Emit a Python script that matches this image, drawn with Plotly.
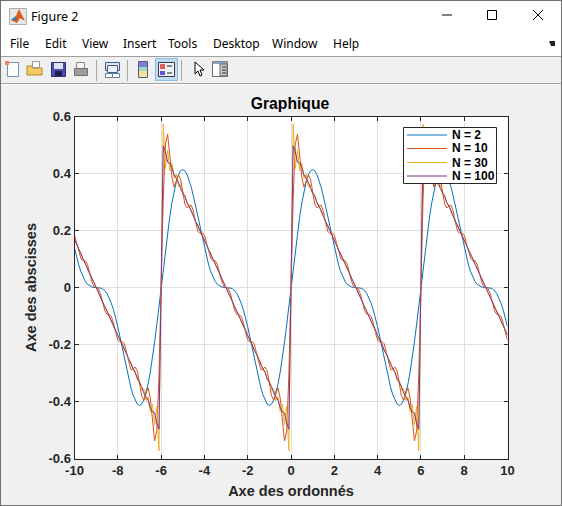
import plotly.graph_objects as go

W, H = 562, 506
x_ticks = [-10, -8, -6, -4, -2, 0, 2, 4, 6, 8, 10]
x_tick_text = ["-10", "-8", "-6", "-4", "-2", "0", "2", "4", "6", "8", "10"]
y_ticks = [-0.6, -0.4, -0.2, 0, 0.2, 0.4, 0.6]
y_tick_text = ["-0.6", "-0.4", "-0.2", "0", "0.2", "0.4", "0.6"]
series_names = ["N = 2", "N = 10", "N = 30", "N = 100"]
series_colors = ["#0072BD", "#D95319", "#EDB120", "#7E2F8E"]
menu_labels = ["File", "Edit", "View", "Insert", "Tools", "Desktop", "Window", "Help"]
x_samples = [i / 10 for i in range(-100, 101)]

n2 = [
    .138,.106,.078,.055,.036,.021,.011,.005,.002,.000,0,
    -.000,-.002,-.005,-.011,-.021,-.036,-.055,-.078,-.106,-.138,-.173,-.209,-.247,-.284,-.318,-.350,-.376,-.396,-.409,-.414,-.409,-.395,-.371,-.339,-.297,-.248,-.192,-.131,-.066,0,
    .066,.131,.192,.248,.297,.339,.371,.395,.409,.414,.409,.396,.376,.350,.318,.284,.247,.209,.173,.138,.106,.078,.055,.036,.021,.011,.005,.002,.000,0,
    -.000,-.002,-.005,-.011,-.021,-.036,-.055,-.078,-.106,-.138,-.173,-.209,-.247,-.284,-.318,-.350,-.376,-.396,-.409,-.414,-.409,-.395,-.371,-.339,-.297,-.248,-.192,-.131,-.066,0,
    .066,.131,.192,.248,.297,.339,.371,.395,.409,.414,.409,.396,.376,.350,.318,.284,.247,.209,.173,.138,.106,.078,.055,.036,.021,.011,.005,.002,.000,0,
    -.000,-.002,-.005,-.011,-.021,-.036,-.055,-.078,-.106,-.138,-.173,-.209,-.247,-.284,-.318,-.350,-.376,-.396,-.409,-.414,-.409,-.395,-.371,-.339,-.297,-.248,-.192,-.131,-.066,0,
    .066,.131,.192,.248,.297,.339,.371,.395,.409,.414,.409,.396,.376,.350,.318,.284,.247,.209,.173,.138,.106,.078,.055,.036,.021,.011,.005,.002,.000,0,
    -.000,-.002,-.005,-.011,-.021,-.036,-.055,-.078,-.106,-.138,
]

n10 = [
    .184,.158,.124,.101,.095,.094,.081,.052,.021,.003,0,
    -.003,-.021,-.052,-.081,-.094,-.095,-.101,-.124,-.158,-.184,-.192,-.189,-.197,-.227,-.265,-.288,-.287,-.279,-.292,-.333,-.380,-.395,-.374,-.352,-.387,-.465,-.538,-.504,-.311,0,
    .311,.504,.538,.465,.387,.352,.374,.395,.380,.333,.292,.279,.287,.288,.265,.227,.197,.189,.192,.184,.158,.124,.101,.095,.094,.081,.052,.021,.003,0,
    -.003,-.021,-.052,-.081,-.094,-.095,-.101,-.124,-.158,-.184,-.192,-.189,-.197,-.227,-.265,-.288,-.287,-.279,-.292,-.333,-.380,-.395,-.374,-.352,-.387,-.465,-.538,-.504,-.311,0,
    .311,.504,.538,.465,.387,.352,.374,.395,.380,.333,.292,.279,.287,.288,.265,.227,.197,.189,.192,.184,.158,.124,.101,.095,.094,.081,.052,.021,.003,0,
    -.003,-.021,-.052,-.081,-.094,-.095,-.101,-.124,-.158,-.184,-.192,-.189,-.197,-.227,-.265,-.288,-.287,-.279,-.292,-.333,-.380,-.395,-.374,-.352,-.387,-.465,-.538,-.504,-.311,0,
    .311,.504,.538,.465,.387,.352,.374,.395,.380,.333,.292,.279,.287,.288,.265,.227,.197,.189,.192,.184,.158,.124,.101,.095,.094,.081,.052,.021,.003,0,
    -.003,-.021,-.052,-.081,-.094,-.095,-.101,-.124,-.158,-.184,
]

n30 = [
    .164,.153,.131,.119,.098,.085,.066,.051,.033,.017,0,
    -.017,-.033,-.051,-.066,-.085,-.098,-.119,-.131,-.153,-.164,-.187,-.196,-.221,-.229,-.255,-.261,-.290,-.293,-.325,-.324,-.360,-.355,-.397,-.384,-.436,-.409,-.483,-.418,-.573,0,
    .573,.418,.483,.409,.436,.384,.397,.355,.360,.324,.325,.293,.290,.261,.255,.229,.221,.196,.187,.164,.153,.131,.119,.098,.085,.066,.051,.033,.017,0,
    -.017,-.033,-.051,-.066,-.085,-.098,-.119,-.131,-.153,-.164,-.187,-.196,-.221,-.229,-.255,-.261,-.290,-.293,-.325,-.324,-.360,-.355,-.397,-.384,-.436,-.409,-.483,-.418,-.573,0,
    .573,.418,.483,.409,.436,.384,.397,.355,.360,.324,.325,.293,.290,.261,.255,.229,.221,.196,.187,.164,.153,.131,.119,.098,.085,.066,.051,.033,.017,0,
    -.017,-.033,-.051,-.066,-.085,-.098,-.119,-.131,-.153,-.164,-.187,-.196,-.221,-.229,-.255,-.261,-.290,-.293,-.325,-.324,-.360,-.355,-.397,-.384,-.436,-.409,-.483,-.418,-.573,0,
    .573,.418,.483,.409,.436,.384,.397,.355,.360,.324,.325,.293,.290,.261,.255,.229,.221,.196,.187,.164,.153,.131,.119,.098,.085,.066,.051,.033,.017,0,
    -.017,-.033,-.051,-.066,-.085,-.098,-.119,-.131,-.153,-.164,
]

n100 = [
    .168,.149,.132,.118,.100,.082,.068,.050,.032,.018,0,
    -.018,-.032,-.050,-.068,-.082,-.100,-.118,-.132,-.149,-.168,-.182,-.199,-.219,-.233,-.248,-.269,-.283,-.298,-.319,-.333,-.347,-.370,-.384,-.395,-.421,-.436,-.440,-.476,-.497,0,
    .497,.476,.440,.436,.421,.395,.384,.370,.347,.333,.319,.298,.283,.269,.248,.233,.219,.199,.182,.168,.149,.132,.118,.100,.082,.068,.050,.032,.018,0,
    -.018,-.032,-.050,-.068,-.082,-.100,-.118,-.132,-.149,-.168,-.182,-.199,-.219,-.233,-.248,-.269,-.283,-.298,-.319,-.333,-.347,-.370,-.384,-.395,-.421,-.436,-.440,-.476,-.497,0,
    .497,.476,.440,.436,.421,.395,.384,.370,.347,.333,.319,.298,.283,.269,.248,.233,.219,.199,.182,.168,.149,.132,.118,.100,.082,.068,.050,.032,.018,0,
    -.018,-.032,-.050,-.068,-.082,-.100,-.118,-.132,-.149,-.168,-.182,-.199,-.219,-.233,-.248,-.269,-.283,-.298,-.319,-.333,-.347,-.370,-.384,-.395,-.421,-.436,-.440,-.476,-.497,0,
    .497,.476,.440,.436,.421,.395,.384,.370,.347,.333,.319,.298,.283,.269,.248,.233,.219,.199,.182,.168,.149,.132,.118,.100,.082,.068,.050,.032,.018,0,
    -.018,-.032,-.050,-.068,-.082,-.100,-.118,-.132,-.149,-.168,
]
all_series = [n2, n10, n30, n100]

PX = lambda v: v / W
PY = lambda v: 1 - v / H
shapes, notes = [], []


def rect(x0, y0, x1, y1, fill=None, line=None, lw=1, layer="below"):
    shapes.append(dict(type="rect", xref="paper", yref="paper", x0=PX(x0), x1=PX(x1),
                       y0=PY(y0), y1=PY(y1), fillcolor=fill or "rgba(0,0,0,0)",
                       line=dict(color=line or "rgba(0,0,0,0)", width=lw if line else 0), layer=layer))


def seg(x0, y0, x1, y1, color, lw=1, layer="below"):
    shapes.append(dict(type="line", xref="paper", yref="paper", x0=PX(x0), x1=PX(x1),
                       y0=PY(y0), y1=PY(y1), line=dict(color=color, width=lw), layer=layer))


def poly(points, fill, line=None, lw=1):
    path = "M " + " L ".join(f"{PX(a):.5f},{PY(b):.5f}" for a, b in points) + " Z"
    shapes.append(dict(type="path", xref="paper", yref="paper", path=path, fillcolor=fill,
                       line=dict(color=line or "rgba(0,0,0,0)", width=lw if line else 0), layer="below"))


def text(x, y, s, size, color, family="Noto Sans", anchor="left"):
    notes.append(dict(xref="paper", yref="paper", x=PX(x), y=PY(y), text=s, showarrow=False,
                      xanchor=anchor, yanchor="middle", align=anchor, borderpad=0,
                      font=dict(size=size, color=color, family=family)))


# window frame and bars
rect(0, 0, W, 56, fill="#ffffff")
rect(0, 57, W, 83, fill="#f0f0f0")
seg(0, 56.5, W, 56.5, "#a0a0a0")
seg(0, 83.5, W, 83.5, "#a0a0a0")
seg(0, 84.5, W, 84.5, "#ffffff")
seg(0.5, 0, 0.5, H, "#707070")
seg(W - 0.5, 0, W - 0.5, H, "#707070")
seg(0, 0.5, W, 0.5, "#707070")
seg(0, H - 0.5, W, H - 0.5, "#707070")

# title bar
rect(9.5, 8.5, 26.5, 24.5, fill="#e6e6e6", line="#b0b0b0")
poly([(11, 20), (16, 16), (19, 9), (25, 21), (20, 18), (17, 23)], "#e2591b")
poly([(11, 20), (16, 16), (17, 20)], "#2f7fc0")
text(30, 16, "Figure 2", 12.5, "#000000")
seg(442, 15, 452, 15, "#000000")
rect(487.5, 10.5, 496.5, 19.5, line="#000000")
seg(533, 10, 543, 20, "#000000")
seg(533, 20, 543, 10, "#000000")

# menu bar
menu_x = [9, 44, 81, 122, 167, 212, 271, 332]
for mx, label in zip(menu_x, menu_labels):
    text(mx, 44, label, 12, "#000000")
poly([(549, 41), (555, 41), (555, 46), (551, 46)], "#202020")

# toolbar icons
rect(7.5, 62.5, 18.5, 76.5, fill="#ffffff", line="#6f8fc8")
rect(5, 61, 9, 65, fill="#f08a50")
poly([(27, 75), (27, 66), (32, 66), (33, 68), (42, 68), (42, 75)], "#f3cd63", "#b08a2a")
rect(32.5, 61.5, 39.5, 67.5, fill="#ffffff", line="#9a9a9a")
rect(51.5, 62.5, 65.5, 76.5, fill="#4a4fae", line="#2c2f78")
rect(54, 63, 63, 69, fill="#dfe3f5")
rect(55, 71, 62, 76, fill="#20204f")
rect(76.5, 62.5, 84.5, 68.5, fill="#f4f4f4", line="#8a8a8a")
rect(74.5, 68.5, 87.5, 75.5, fill="#9c9c9c", line="#707070")
seg(96.5, 60, 96.5, 81, "#a8a8a8")
rect(105.5, 62.5, 119.5, 70.5, fill="#dfe6f2", line="#3f5f8a")
rect(107.5, 65.5, 117.5, 72.5, fill="#eef2f8", line="#3f5f8a")
rect(105.5, 73.5, 112.5, 77.5, fill="#ffffff", line="#5f7f9f")
rect(112.5, 73.5, 119.5, 77.5, fill="#ffffff", line="#5f7f9f")
seg(127.5, 60, 127.5, 81, "#a8a8a8")
rect(138.5, 61.5, 147.5, 77.5, fill="#f0e6a0", line="#5a5a7a")
rect(139, 62, 147, 67, fill="#7a7fd0")
rect(139, 67, 147, 71, fill="#9ed8c8")
seg(181.5, 60, 181.5, 81, "#a8a8a8")
rect(155.5, 58.5, 177.5, 80.5, fill="#bcdcf4", line="#8cbce0")
rect(158.5, 62.5, 174.5, 76.5, fill="#f2f2f2", line="#3a3a4a")
rect(160, 64, 165, 69, fill="#e06060")
rect(160, 71, 165, 75, fill="#5a5ad8")
seg(167, 66, 172, 66, "#202020")
seg(167, 73, 172, 73, "#202020")
poly([(195, 62), (195, 74), (198, 71), (200, 76), (202, 75), (200, 70), (204, 70)], "#ffffff", "#000000")
rect(212.5, 61.5, 227.5, 76.5, fill="#ffffff", line="#6a6a6a")
rect(212.5, 61.5, 227.5, 64, fill="#8aa6c0")
rect(220, 64, 227, 76, fill="#c8c8c8", line="#6a6a6a")
for ty in (67, 70, 73):
    seg(222, ty, 226, ty, "#303030")

# hand-drawn legend, laid out like the MATLAB one
rect(403.5, 127.5, 496.5, 183.5, fill="#ffffff", line="#262626", layer="above")
leg_y = [135, 148.5, 162.5, 176]
for ly, name, col in zip(leg_y, series_names, series_colors):
    seg(407, ly, 447, ly, col, layer="above")
    text(451, ly, name, 12, "#000000", family="Liberation Sans", anchor="left")
    notes[-1]["font"]["weight"] = "bold"

fig = go.Figure()
for name, col, vals in zip(series_names, series_colors, all_series):
    fig.add_trace(go.Scatter(x=x_samples, y=vals, mode="lines", name=name,
                             line=dict(color=col, width=1), showlegend=False))

axis_font = dict(family="Liberation Sans", size=13, color="#262626", weight="bold")
label_font = dict(family="Liberation Sans", size=14.5, color="#262626", weight="bold")
common = dict(showline=True, linecolor="#262626", linewidth=1, mirror="allticks", ticks="inside",
              ticklen=4, tickwidth=1, tickcolor="#262626", showgrid=True, gridcolor="#dfdfdf",
              gridwidth=1, zeroline=False, tickfont=axis_font, automargin=False)
fig.update_layout(
    width=W, height=H, margin=dict(l=0, r=0, t=0, b=0), autosize=False,
    paper_bgcolor="#f0f0f0", plot_bgcolor="#ffffff", showlegend=False,
    title=dict(text="Graphique", x=290 / W, xanchor="center", y=PY(104), yanchor="middle",
               font=dict(family="Liberation Sans", size=15.7, color="#000000", weight="bold")),
    xaxis=dict(domain=[PX(74.5), PX(507.5)], range=[-10, 10], tickvals=x_ticks, ticktext=x_tick_text,
               title=dict(text="Axe des ordonnés", font=label_font, standoff=8), **common),
    yaxis=dict(domain=[PY(458.5), PY(116.5)], range=[-0.6, 0.6], tickvals=y_ticks, ticktext=y_tick_text,
               title=dict(text="Axe des abscisses", font=label_font, standoff=8), **common),
    shapes=shapes, annotations=notes,
)
fig.write_html("out.html", config=dict(displayModeBar=False),
               post_script="document.body.style.margin='0';document.body.style.overflow='hidden';")
